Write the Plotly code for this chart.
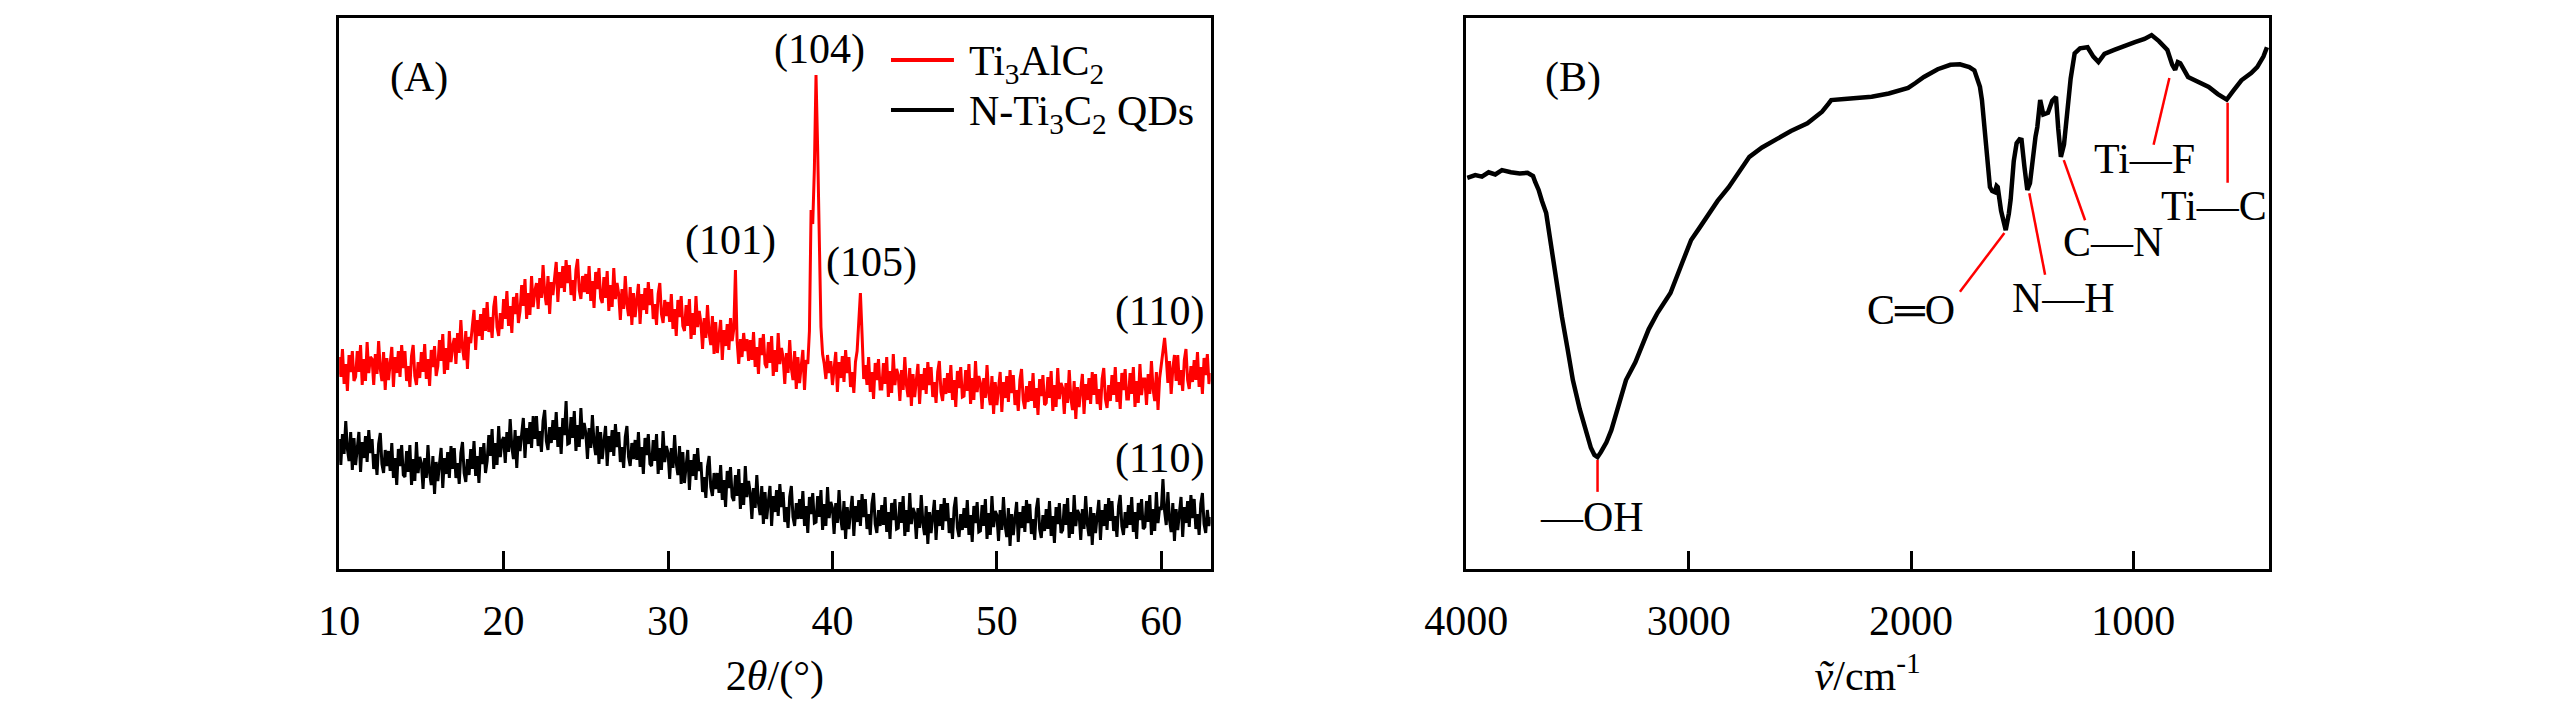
import numpy as np
import plotly.graph_objects as go

# ---- (A) XRD ----
two_theta = np.round(np.arange(100, 631) / 10, 1)   # 10.0 ... 63.0, step 0.1

ti3alc2 = [
    212,192,220,185,205,178,214,197,218,188,
    192,218,197,224,184,210,188,227,196,212,
    210,184,215,195,228,200,188,217,179,211,
    189,206,222,182,212,196,218,192,224,201,
    218,188,203,182,213,224,193,184,207,191,
    217,197,225,190,210,183,219,202,223,193,
    203,229,208,235,195,221,199,238,207,223,
    231,205,236,216,249,221,209,238,200,232,
    226,243,259,219,249,233,255,229,261,238,
    267,237,252,231,262,273,242,233,256,240,
    270,250,278,243,263,236,272,255,276,246,
    258,284,263,290,250,276,254,293,262,278,
    286,260,291,271,304,276,264,293,255,287,
    274,291,307,267,297,281,303,277,309,286,
    304,274,289,268,299,310,279,270,293,277,
    295,275,303,268,288,261,297,280,301,271,
    266,292,271,298,258,284,262,301,270,286,
    275,249,280,260,293,265,253,282,244,276,
    252,269,285,245,275,259,281,255,287,264,
    280,250,265,244,275,286,255,246,269,253,
    267,247,275,240,260,233,269,252,273,243,
    238,264,243,270,230,256,234,273,242,258,
    246,220,251,231,264,236,224,253,215,247,
    216,233,249,209,239,223,245,219,251,228,
    240,299,228,205,230,212,236,218,230,208,
    229,209,237,202,222,195,231,214,235,205,
    201,227,206,233,193,219,197,236,205,221,
    211,185,216,196,229,201,189,218,180,212,
    186,203,219,179,209,205,238,359,345,400,
    494,420,336,242,215,205,190,214,196,208,
    184,201,217,177,207,191,213,187,219,196,
    212,182,197,176,207,218,250,276,235,190,
    204,184,212,177,197,170,206,189,210,180,
    180,206,185,212,172,198,176,215,184,200,
    194,168,199,179,212,184,172,201,163,195,
    172,189,205,165,195,179,201,175,207,184,
    202,172,187,166,197,208,177,168,191,175,
    196,176,204,169,189,162,198,181,202,172,
    173,199,178,205,165,191,169,208,177,193,
    186,160,191,171,204,176,164,193,155,187,
    164,181,197,157,187,171,193,167,199,176,
    194,164,179,158,189,200,169,160,183,167,
    188,168,196,161,181,154,190,173,194,164,
    166,192,171,198,158,184,162,201,170,186,
    181,155,186,166,199,171,159,188,150,182,
    162,179,195,155,185,169,191,165,197,174,
    195,165,180,159,190,201,170,161,184,168,
    194,174,202,167,187,160,196,179,200,170,
    170,196,175,202,162,188,166,205,174,190,
    190,164,195,175,208,180,168,197,159,191,
    205,222,231,212,186,208,175,200,214,188,
    214,184,199,178,209,220,189,180,203,187,
    209,189,217,182,202,175,211,194,215,185,
    196,
]

n_ti3c2_qds = [
    130,104,135,115,148,120,108,137,99,131,
    104,121,137,97,127,111,133,107,139,116,
    130,100,115,94,125,136,105,96,119,103,
    118,98,126,91,111,84,120,103,124,94,
    92,118,97,124,84,110,88,127,96,112,
    106,80,111,91,124,96,84,113,75,107,
    88,105,121,81,111,95,117,91,123,100,
    121,91,106,85,116,127,96,87,110,94,
    120,100,128,93,113,86,122,105,126,96,
    108,134,113,140,100,126,104,143,112,128,
    132,106,137,117,150,122,110,139,101,133,
    118,135,151,111,141,125,147,121,153,130,
    153,123,138,117,148,159,128,119,142,126,
    149,129,157,122,142,115,151,134,168,125,
    126,152,131,158,118,144,122,161,130,146,
    136,110,141,121,154,126,114,143,105,137,
    110,127,143,103,133,117,139,113,145,122,
    137,107,122,101,132,143,112,103,126,110,
    129,109,137,102,122,95,131,114,135,105,
    103,129,108,135,95,121,99,138,107,123,
    116,90,121,101,134,106,94,123,85,117,
    86,103,119,79,109,93,115,89,121,98,
    107,77,92,71,102,113,82,73,96,80,
    96,76,104,69,89,62,98,81,102,72,
    68,94,73,100,60,86,64,103,72,88,
    76,50,81,61,94,66,54,83,45,77,
    50,67,83,43,73,57,79,53,85,62,
    77,47,62,41,72,83,52,43,66,50,
    70,50,78,43,63,36,72,55,76,46,
    47,73,52,79,39,65,43,82,51,67,
    61,35,66,46,79,51,39,68,30,62,
    40,57,73,33,63,47,69,43,75,52,
    70,40,55,34,65,76,45,36,59,43,
    64,44,72,37,57,30,66,49,70,40,
    41,67,46,73,33,59,37,76,45,61,
    56,30,61,41,74,46,34,63,25,57,
    36,53,69,29,59,43,65,39,71,48,
    66,36,51,30,61,72,41,32,55,39,
    61,41,69,34,54,27,63,46,67,37,
    38,64,43,70,30,56,34,73,42,58,
    54,28,59,39,72,44,32,61,23,55,
    34,51,67,27,57,41,63,37,69,46,
    65,35,50,29,60,71,40,31,54,38,
    60,40,68,33,53,26,62,45,66,36,
    39,65,44,71,31,57,35,74,43,59,
    55,29,60,40,73,45,33,62,24,56,
    36,53,69,29,59,43,65,39,71,48,
    68,38,53,32,63,74,43,34,57,41,
    64,44,72,37,57,30,66,49,70,40,
    42,68,47,74,34,60,38,77,46,62,
    59,90,58,44,77,49,37,66,28,60,
    39,56,72,32,62,46,68,42,74,51,
    70,40,55,34,65,76,45,36,59,43,
    52,
]

xrd_ticks = [10, 20, 30, 40, 50, 60]

# peak labels: (text, 2theta, intensity)
peak_labels = [
    ("(101)", 33.8, 328),
    ("(104)", 39.2, 519),
    ("(105)", 42.4, 306),
    ("(110)", 59.9, 257),
    ("(110)", 59.9, 110),
]

# ---- (B) FTIR ----
wavenumber = [3996, 3960, 3930, 3900, 3870, 3840, 3800, 3760, 3725, 3700,
              3690, 3675, 3660, 3641, 3620, 3605, 3590, 3570, 3545, 3521,
              3490, 3463, 3440, 3424, 3410, 3395, 3370, 3348, 3315, 3282,
              3240, 3202, 3180, 3140, 3082, 3030, 2989, 2950, 2918, 2870,
              2820, 2770, 2727, 2670, 2608, 2540, 2466, 2400, 2370, 2359,
              2300, 2177, 2100, 2035, 2013, 1980, 1942, 1880, 1823, 1780,
              1738, 1715, 1703, 1690, 1681, 1670, 1659, 1645, 1635, 1623,
              1615, 1610, 1595, 1574, 1560, 1552, 1538, 1525, 1512, 1503,
              1490, 1477, 1465, 1455, 1440, 1432, 1419, 1405, 1384, 1365,
              1348, 1338, 1326, 1312, 1299, 1282, 1264, 1240, 1206, 1180,
              1157, 1130, 1086, 1040, 993, 950, 918, 885, 847, 825,
              812, 800, 789, 754, 700, 661, 620, 580, 550, 514,
              470, 443, 415, 399]
transmittance = [71.0, 71.5, 71.2, 72.0, 71.6, 72.4, 72.0, 71.8, 71.9, 71.3,
                 70.2, 68.8, 66.8, 64.6, 59.0, 54.8, 51.0, 45.7, 40.0, 34.3,
                 29.0, 25.2, 22.0, 20.7, 20.3, 21.2, 23.0, 25.2, 29.5, 34.3,
                 37.5, 41.0, 43.5, 46.5, 50.1, 55.5, 59.7, 62.0, 63.9, 66.8,
                 69.3, 72.3, 74.8, 76.5, 77.9, 79.5, 80.9, 83.0, 84.5, 85.1,
                 85.3, 85.7, 86.3, 86.9, 87.3, 88.2, 89.3, 90.7, 91.5, 91.6,
                 91.1, 90.5, 89.3, 87.5, 85.1, 80.5, 76.0, 69.3, 68.6, 68.4,
                 69.5, 69.3, 65.0, 61.5, 64.5, 67.0, 74.0, 77.3, 78.0, 77.9,
                 73.0, 68.8, 70.0, 74.2, 78.5, 80.2, 85.1, 82.5, 82.8, 85.0,
                 85.7, 80.0, 74.8, 77.0, 82.0, 89.0, 93.6, 94.5, 94.7, 93.0,
                 92.0, 93.5, 94.2, 94.8, 95.6, 96.2, 96.9, 95.8, 94.2, 91.5,
                 90.6, 92.0, 91.8, 89.3, 88.3, 87.5, 86.2, 85.2, 86.8, 88.7,
                 90.0, 91.1, 93.0, 94.7]
ftir_ticks = [4000, 3000, 2000, 1000]

# band assignments: (text, text_wn, text_T, line from (wn,T) to (wn,T))
bands = [
    ("\u2014OH", 3437, 9.4, (3410, 19.8), (3410, 14.0)),
    ("C\u2550O", 2000, 47.0, (1580, 61.0), (1780, 50.3)),
    ("N\u2014H", 1313, 49.2, (1468, 68.2), (1397, 53.4)),
    ("C\u2014N", 1091, 59.3, (1313, 74.2), (1217, 63.3)),
    ("Ti\u2014F", 949, 74.4, (838, 89.1), (909, 77.0)),
    ("Ti\u2014C", 639, 65.9, (576, 84.6), (576, 70.1)),
]

FONT = "Times New Roman, Liberation Serif, serif"
FS = 42

fig = go.Figure()

fig.add_trace(go.Scatter(x=two_theta, y=ti3alc2, mode="lines",
                         line=dict(color="#ff0000", width=3),
                         name="Ti3AlC2", showlegend=False))
fig.add_trace(go.Scatter(x=two_theta, y=n_ti3c2_qds, mode="lines",
                         line=dict(color="#000000", width=3),
                         name="N-Ti3C2 QDs", showlegend=False))
fig.add_trace(go.Scatter(x=wavenumber, y=transmittance, mode="lines",
                         line=dict(color="#000000", width=4.5),
                         xaxis="x2", yaxis="y2", showlegend=False))

# peak labels
for txt, xx, yy in peak_labels:
    fig.add_annotation(x=xx, y=yy, xref="x", yref="y", text=txt,
                       showarrow=False, font=dict(size=FS, color="black"))

# hand-made legend (long line samples like the original)
legend_rows = [("Ti<sub>3</sub>AlC<sub>2</sub>", "#ff0000", 509),
               ("N-Ti<sub>3</sub>C<sub>2</sub> QDs", "#000000", 459)]
for txt, col, yy in legend_rows:
    fig.add_shape(type="line", xref="x", yref="y", x0=43.56, x1=47.39, y0=yy, y1=yy,
                  line=dict(color=col, width=4))
    fig.add_annotation(x=48.17, y=yy - 4, xref="x", yref="y", text=txt,
                       xanchor="left", showarrow=False,
                       font=dict(size=FS, color="black"))

# band labels for FTIR
for txt, tx, ty, p0, p1 in bands:
    fig.add_shape(type="line", xref="x2", yref="y2",
                  x0=p0[0], y0=p0[1], x1=p1[0], y1=p1[1],
                  line=dict(color="#ff0000", width=2.5))
    fig.add_annotation(x=tx, y=ty, xref="x2", yref="y2", text=txt,
                       showarrow=False, font=dict(size=FS, color="black"))

# panel letters
fig.add_annotation(x=0.0564, y=0.938, xref="x domain", yref="y domain",
                   text="(A)", showarrow=False, font=dict(size=FS, color="black"))
fig.add_annotation(x=0.0955, y=0.938, xref="x2 domain", yref="y2 domain",
                   text="(B)", showarrow=False, font=dict(size=FS, color="black"))

# the page body keeps its default 8px margin, so the figure is 8px smaller
OFF = 8
W, H = 2567 - OFF, 709 - OFF
ydom = [(H - (569 - OFF)) / H, (H - (18 - OFF)) / H]
frame = dict(showline=True, mirror=True, linecolor="black", linewidth=3,
             showgrid=False, zeroline=False)

fig.update_layout(
    width=W, height=H, autosize=False,
    margin=dict(l=0, r=0, t=0, b=0),
    paper_bgcolor="white", plot_bgcolor="white",
    font=dict(family=FONT, size=FS, color="black"),
    showlegend=False,
    xaxis=dict(domain=[(302 - OFF) / W, (1188 - OFF) / W], range=[10, 63],
               tickvals=xrd_ticks, ticks="inside", ticklen=18, tickwidth=2.5,
               tickcolor="black", ticklabelstandoff=13,
               tickfont=dict(size=FS),
               title=dict(text="2<i>θ</i>/(°)", font=dict(size=FS), standoff=18),
               **frame),
    yaxis=dict(domain=ydom, range=[0, 551], showticklabels=False, ticks="",
               **frame),
    xaxis2=dict(domain=[(1448 - OFF) / W, (2264 - OFF) / W], range=[4000, 390],
                anchor="y2",
                tickvals=ftir_ticks, ticks="inside", ticklen=18, tickwidth=2.5,
                tickcolor="black", ticklabelstandoff=13,
                tickfont=dict(size=FS),
                title=dict(text="<i>ṽ</i>/cm<sup>-1</sup>", font=dict(size=FS), standoff=18),
                **frame),
    yaxis2=dict(domain=ydom, range=[0, 100], anchor="x2", showticklabels=False,
                ticks="", **frame),
)

fig.write_html("out.html")
